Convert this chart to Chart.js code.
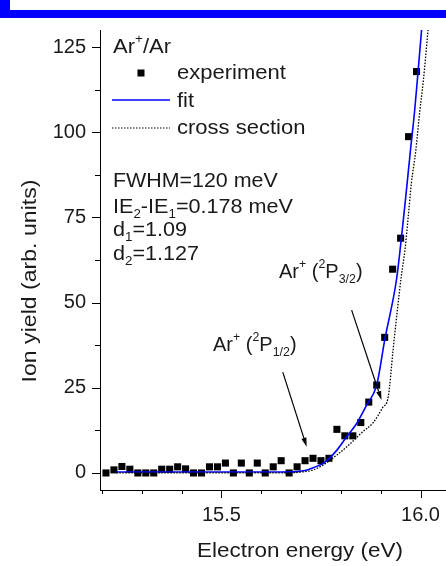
<!DOCTYPE html>
<html lang="en">
<head>
<meta charset="UTF-8">
<title>Ar+/Ar ion yield</title>
<style>
  html, body { margin: 0; padding: 0; background: #fff; }
  #wrap { position: relative; width: 446px; height: 566px; }
</style>
</head>
<body>
<div id="wrap"><canvas id="myChart" width="446" height="566"></canvas></div>
<script src="https://cdn.jsdelivr.net/npm/chart.js"></script>
<script>
// experiment (squares)
const expEnergy = [15.21, 15.23, 15.25, 15.27, 15.29, 15.31, 15.33, 15.35, 15.37, 15.39,
                   15.41, 15.43, 15.45, 15.47, 15.49, 15.51, 15.53, 15.55, 15.57, 15.59,
                   15.61, 15.63, 15.65, 15.67, 15.69, 15.71, 15.73, 15.75, 15.77, 15.79,
                   15.81, 15.83, 15.85, 15.87, 15.89, 15.91, 15.93, 15.95, 15.97, 15.99];
const expYield = [0, 0.9, 1.9, 1.1, 0, 0, 0, 1.1, 1.1, 1.8,
                  1.2, 0, 0, 1.8, 1.8, 2.9, 0, 2.9, 0, 2.9,
                  0, 1.8, 3.6, 0, 1.8, 3.6, 4.3, 3.6, 4.3, 12.8,
                  10.9, 10.9, 14.8, 20.8, 25.8, 39.8, 59.8, 68.9, 98.7, 117.8];

// fit (blue line)
const fitEnergy = [15.236, 15.35, 15.45, 15.55, 15.65, 15.69, 15.71, 15.73, 15.76, 15.79,
                   15.815, 15.84, 15.865, 15.89, 15.91, 15.94, 15.952, 15.962, 15.975, 15.985,
                   15.994, 16.003];
const fitYield = [0.3, 0.3, 0.3, 0.3, 0.3, 0.4, 0.7, 1.5, 3.2, 6.7,
                  10.7, 14.6, 20.0, 25.8, 39.0, 57, 69, 80, 95, 106,
                  118, 130.5];

// cross section (dotted line)
const csEnergy = [15.236, 15.4, 15.55, 15.68, 15.71, 15.73, 15.755, 15.79, 15.815, 15.855,
                  15.88, 15.905, 15.919, 15.931, 15.942, 15.952, 15.961, 15.969, 15.977, 15.988,
                  15.998, 16.007, 16.019];
const csYield = [0, 0, 0, 0.1, 0.4, 0.9, 2.3, 5.3, 7.7, 12.1,
                 14.6, 19.2, 22.4, 36, 48, 58, 65.5, 75, 85, 94.5,
                 106, 115, 130];

const xTickValues = [15.2, 15.3, 15.4, 15.5, 15.6, 15.7, 15.8, 15.9, 16.0];
const xTickLabels = {15.5: '15.5', 16.0: '16.0'};
const yTickValues = [0, 12.5, 25, 37.5, 50, 62.5, 75, 87.5, 100, 112.5, 125];
const yTickLabels = {0: '0', 25: '25', 50: '50', 75: '75', 100: '100', 125: '125'};

// arrows [fromX, fromY, toX, toY] in data units
const arrows = [
  [15.827, 47.8, 15.902, 21.4],
  [15.654, 29.6, 15.714, 7.7]
];

const FONT = '"Liberation Sans", Arial, Helvetica, sans-serif';
const TXT = '#1a1a1a';

function pts(xs, ys) {
  return xs.map((x, i) => ({x: x, y: ys[i]}));
}

// text with sub/superscripts: parts = [[text, 'n'|'sup'|'sub'], ...]
// stretch widens the lettering a little, the original is wider than Arial
function richText(ctx, x, y, parts, size, stretch) {
  ctx.save();
  ctx.translate(x, y);
  ctx.scale(stretch || 1, 1);
  ctx.textBaseline = 'middle';
  ctx.textAlign = 'left';
  let cx = 0;
  parts.forEach(p => {
    let s = size, dy = 0;
    if (p[1] === 'sup') { s = size * 0.62; dy = -size * 0.38; }
    if (p[1] === 'sub') { s = size * 0.62; dy = size * 0.38; }
    ctx.font = s + 'px ' + FONT;
    ctx.fillText(p[0], cx, dy);
    cx += ctx.measureText(p[0]).width;
  });
  ctx.restore();
}

const extras = {
  id: 'extras',
  afterDraw(chart) {
    const ctx = chart.ctx;
    const sx = chart.scales.x, sy = chart.scales.y;
    const area = chart.chartArea;
    ctx.save();

    // blue header strip
    ctx.fillStyle = '#0000ff';
    ctx.fillRect(0, 10, chart.width, 8);
    ctx.fillRect(0, 0, 10, 18);

    // tick marks (major longer than minor)
    ctx.strokeStyle = '#000';
    ctx.lineWidth = 1;
    ctx.beginPath();
    sx.ticks.forEach(t => {
      const px = Math.round(sx.getPixelForValue(t.value)) + 0.5;
      const len = xTickLabels[t.value] ? 8 : 4;
      ctx.moveTo(px, area.bottom);
      ctx.lineTo(px, area.bottom + len);
    });
    sy.ticks.forEach(t => {
      const py = Math.round(sy.getPixelForValue(t.value)) + 0.5;
      const len = yTickLabels[t.value] !== undefined ? 8 : 5;
      ctx.moveTo(area.left, py);
      ctx.lineTo(area.left - len, py);
    });
    ctx.stroke();

    // axis titles
    ctx.fillStyle = TXT;
    ctx.font = '21px ' + FONT;
    ctx.textAlign = 'center';
    ctx.textBaseline = 'middle';
    ctx.save();
    ctx.translate(300, 551);
    ctx.scale(1.07, 1);
    ctx.fillText('Electron energy (eV)', 0, 0);
    ctx.restore();
    ctx.save();
    ctx.translate(30, 281);
    ctx.rotate(-Math.PI / 2);
    ctx.scale(1.1, 1);
    ctx.fillText('Ion yield (arb. units)', 0, 0);
    ctx.restore();

    // legend
    richText(ctx, 113, 47, [['Ar', 'n'], ['+', 'sup'], ['/Ar', 'n']], 20, 1.1);
    ctx.fillStyle = '#000';
    ctx.fillRect(137.5, 69.5, 7, 7);
    ctx.fillStyle = TXT;
    richText(ctx, 177, 73, [['experiment', 'n']], 20, 1.1);
    ctx.strokeStyle = '#0000ff';
    ctx.lineWidth = 1.5;
    ctx.beginPath(); ctx.moveTo(112, 100); ctx.lineTo(170, 100); ctx.stroke();
    richText(ctx, 177, 101, [['fit', 'n']], 20, 1.1);
    ctx.strokeStyle = '#000';
    ctx.lineWidth = 1.2;
    ctx.setLineDash([1.5, 1.5]);
    ctx.beginPath(); ctx.moveTo(112, 128); ctx.lineTo(170, 128); ctx.stroke();
    ctx.setLineDash([]);
    richText(ctx, 177, 128, [['cross section', 'n']], 20, 1.1);

    // parameters
    richText(ctx, 113, 181, [['FWHM=120 meV', 'n']], 20, 1.07);
    richText(ctx, 113, 207, [['IE', 'n'], ['2', 'sub'], ['-IE', 'n'], ['1', 'sub'], ['=0.178 meV', 'n']], 20, 1.08);
    richText(ctx, 113, 230, [['d', 'n'], ['1', 'sub'], ['=1.09', 'n']], 20, 1.08);
    richText(ctx, 113, 254, [['d', 'n'], ['2', 'sub'], ['=1.127', 'n']], 20, 1.08);

    // annotations
    richText(ctx, 279, 272, [['Ar', 'n'], ['+', 'sup'], [' (', 'n'], ['2', 'sup'], ['P', 'n'], ['3/2', 'sub'], [')', 'n']], 20, 1.0);
    richText(ctx, 213, 345, [['Ar', 'n'], ['+', 'sup'], [' (', 'n'], ['2', 'sup'], ['P', 'n'], ['1/2', 'sub'], [')', 'n']], 20, 1.0);

    ctx.strokeStyle = '#000';
    ctx.fillStyle = '#000';
    ctx.lineWidth = 1.2;
    arrows.forEach(a => {
      const x1 = sx.getPixelForValue(a[0]), y1 = sy.getPixelForValue(a[1]);
      const x2 = sx.getPixelForValue(a[2]), y2 = sy.getPixelForValue(a[3]);
      const ang = Math.atan2(y2 - y1, x2 - x1);
      const hl = 9, hw = 2.6;
      const bx = x2 - hl * Math.cos(ang), by = y2 - hl * Math.sin(ang);
      ctx.beginPath(); ctx.moveTo(x1, y1); ctx.lineTo(bx, by); ctx.stroke();
      ctx.beginPath();
      ctx.moveTo(x2, y2);
      ctx.lineTo(bx + hw * Math.sin(ang), by - hw * Math.cos(ang));
      ctx.lineTo(bx - hw * Math.sin(ang), by + hw * Math.cos(ang));
      ctx.closePath();
      ctx.fill();
    });

    ctx.restore();
  }
};

const ctx = document.getElementById('myChart');
const myChart = new Chart(ctx, {
  type: 'scatter',
  data: {
    datasets: [
      {
        label: 'cross section',
        data: pts(csEnergy, csYield),
        showLine: true,
        borderColor: '#000',
        borderWidth: 1.3,
        borderDash: [1.5, 1.5],
        pointRadius: 0,
        cubicInterpolationMode: 'monotone'
      },
      {
        label: 'fit',
        data: pts(fitEnergy, fitYield),
        showLine: true,
        borderColor: '#0000ff',
        borderWidth: 1.6,
        pointRadius: 0,
        cubicInterpolationMode: 'monotone'
      },
      {
        label: 'experiment',
        data: pts(expEnergy, expYield),
        showLine: false,
        pointStyle: 'rect',
        pointRadius: 5,
        pointBackgroundColor: '#000',
        pointBorderWidth: 0
      }
    ]
  },
  options: {
    responsive: false,
    animation: false,
    devicePixelRatio: 1,
    layout: { autoPadding: false, padding: { top: 30, left: 0, right: 0, bottom: 0 } },
    plugins: { legend: { display: false }, tooltip: { enabled: false } },
    scales: {
      x: {
        type: 'linear',
        min: 15.195,
        max: 16.064,
        afterFit: s => { s.height = 76; s.paddingLeft = 0; s.paddingRight = 0; },
        afterBuildTicks: s => { s.ticks = xTickValues.map(v => ({value: v})); },
        grid: { display: false, drawTicks: true, tickLength: 8 },
        border: { display: true, color: '#000', width: 1 },
        ticks: {
          padding: 5,
          maxRotation: 0,
          autoSkip: false,
          color: TXT,
          font: { family: FONT, size: 20 },
          callback: v => xTickLabels[v] || ''
        }
      },
      y: {
        type: 'linear',
        min: -5,
        max: 130,
        afterFit: s => { s.width = 100; s.paddingTop = 0; s.paddingBottom = 0; },
        afterBuildTicks: s => { s.ticks = yTickValues.map(v => ({value: v})); },
        grid: { display: false, drawTicks: true, tickLength: 8 },
        border: { display: true, color: '#000', width: 1 },
        ticks: {
          padding: 6,
          autoSkip: false,
          color: TXT,
          font: { family: FONT, size: 20 },
          callback: v => (yTickLabels[v] !== undefined ? yTickLabels[v] : '')
        }
      }
    }
  },
  plugins: [extras]
});
</script>
</body>
</html>
